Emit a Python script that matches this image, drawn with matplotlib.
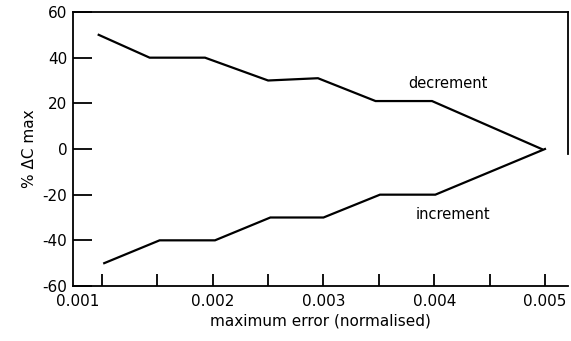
import matplotlib.pyplot as plt
import matplotlib.transforms as mtransforms

# normalised maximum error vs percentage change of C max
decrement_x = [0.00097, 0.00143, 0.00193, 0.00250, 0.00295, 0.00347, 0.00398, 0.00497]
decrement_y = [50, 40, 40, 30, 31, 21, 21, 0]

increment_x = [0.00102, 0.00152, 0.00202, 0.00252, 0.00300, 0.00351, 0.00401, 0.00500]
increment_y = [-50, -40, -40, -30, -30, -20, -20, 0]

x_ticks = [0.001, 0.0015, 0.002, 0.0025, 0.003, 0.0035, 0.004, 0.0045, 0.005]
x_tick_labels = ["0.001", "", "0.002", "", "0.003", "", "0.004", "", "0.005"]
y_ticks = [-60, -40, -20, 0, 20, 40, 60]
y_tick_labels = ["-60", "-40", "-20", "0", "20", "40", "60"]

plt.rcParams["font.family"] = ["DejaVu Sans"]

fig = plt.figure(figsize=(5.71, 3.41), dpi=100)
ax = fig.add_axes([73 / 571, 1 - 286 / 341, (568 - 73) / 571, (286 - 12) / 341])

ax.plot(decrement_x, decrement_y, color="black", lw=1.6, solid_joinstyle="miter")
ax.plot(increment_x, increment_y, color="black", lw=1.6, solid_joinstyle="miter")

ax.set_xlim(0.000738, 0.005208)
ax.set_ylim(-60, 60)

ax.set_xticks(x_ticks)
ax.set_xticklabels(x_tick_labels)
ax.set_yticks(y_ticks)
ax.set_yticklabels(y_tick_labels)
ax.tick_params(axis="x", direction="in", length=9, width=1.3, labelsize=11, pad=6)
ax.tick_params(axis="y", direction="in", length=14, width=1.3, labelsize=11, pad=4)

# the first x label sits left of its tick
first = ax.get_xticklabels()[0]
first.set_transform(first.get_transform() + mtransforms.ScaledTranslation(-0.24, 0, fig.dpi_scale_trans))

for side in ["top", "bottom", "left", "right"]:
    ax.spines[side].set_linewidth(1.3)
ax.spines["right"].set_bounds(-2, 60)

ax.text(0.00412, 28.5, "decrement", ha="center", va="center", fontsize=10.5)
ax.text(0.00417, -28.5, "increment", ha="center", va="center", fontsize=10.5)

ax.set_xlabel("maximum error (normalised)", fontsize=11, labelpad=3)
ax.set_ylabel("% ΔC max", fontsize=11, labelpad=4)

fig.savefig("out.png", dpi=100)
